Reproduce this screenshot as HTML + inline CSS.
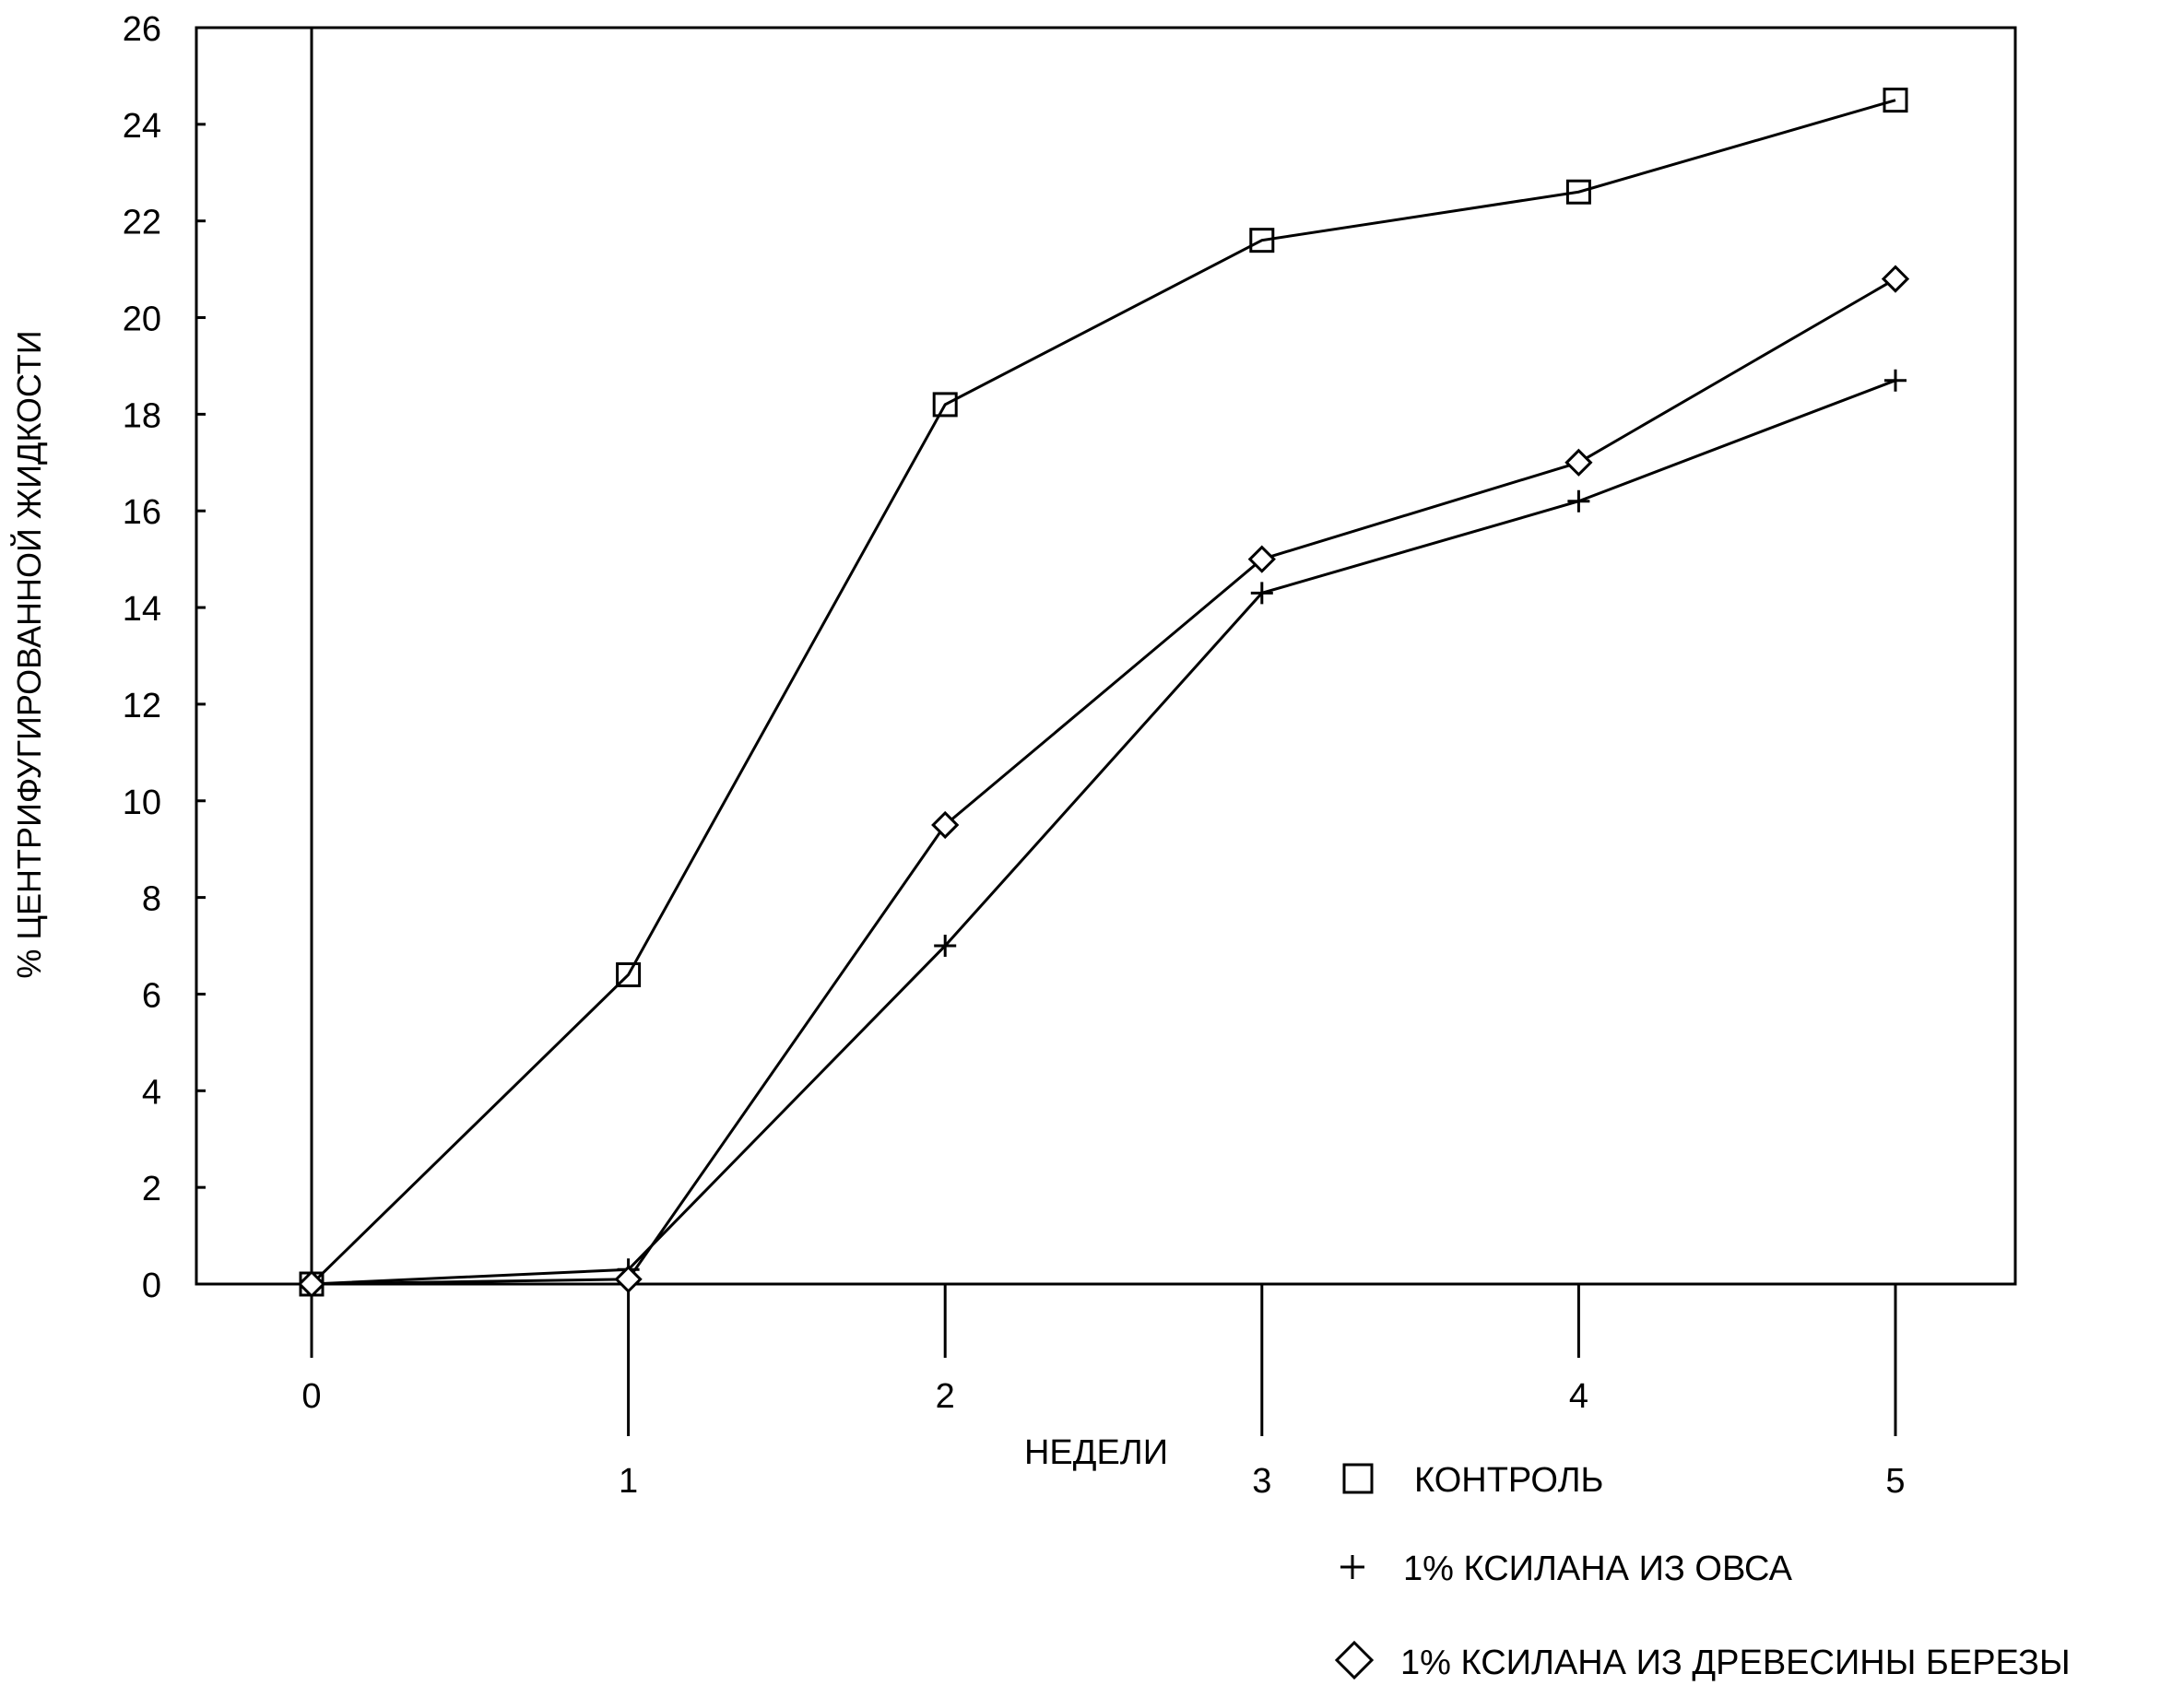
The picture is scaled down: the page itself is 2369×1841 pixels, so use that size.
<!DOCTYPE html>
<html><head><meta charset="utf-8"><style>
html,body{margin:0;padding:0;background:#fff}
svg{display:block}
text{font-family:"Liberation Sans",sans-serif;fill:#000}
</style></head><body>
<svg width="2369" height="1841" viewBox="0 0 2369 1841">
<g id="axes"></g>
<g id="series"></g>
<text x="1189" y="1588" font-size="38" text-anchor="middle">НЕДЕЛИ</text>
<text transform="translate(44,710) rotate(-90)" font-size="36" text-anchor="middle">% ЦЕНТРИФУГИРОВАННОЙ ЖИДКОСТИ</text>
<g>
<g>
<rect x="1458" y="1589" width="30" height="30" fill="none" stroke="#000" stroke-width="3"/>
<text x="1534" y="1618" font-size="38">КОНТРОЛЬ</text></g>
<g>
<path d="M1454 1700h26M1467 1687v26" stroke="#000" stroke-width="3"/>
<text x="1522" y="1714" font-size="38">1% КСИЛАНА ИЗ ОВСА</text></g>
<g>
<path d="M1469 1782l19 19l-19 19l-19-19z" fill="none" stroke="#000" stroke-width="3"/>
<text x="1519" y="1816" font-size="38">1% КСИЛАНА ИЗ ДРЕВЕСИНЫ БЕРЕЗЫ</text></g>
</g>
<script>
const weeks=[0,1,2,3,4,5];
const yTicks=[0,2,4,6,8,10,12,14,16,18,20,22,24,26];
const control=[0,6.4,18.2,21.6,22.6,24.5];
const oat=[0,0.3,7.0,14.3,16.2,18.7];
const birch=[0,0.1,9.5,15.0,17.0,20.8];
const L=213,R=2186,T=30,B=1393,X0=338,XW=343.6;
const sx=w=>X0+w*XW, sy=v=>B-(v/26)*(B-T);
const NS='http://www.w3.org/2000/svg';
function mk(tag,attrs,parent){const e=document.createElementNS(NS,tag);for(const k in attrs)e.setAttribute(k,attrs[k]);parent.appendChild(e);return e;}
const ax=document.getElementById('axes');
let f=mk('rect',{x:L,y:T,width:R-L,height:B-T,fill:'none',stroke:'#000','stroke-width':3},ax);


let v0=mk('line',{x1:sx(0),x2:sx(0),y1:T,y2:B,stroke:'#000','stroke-width':3},ax);


yTicks.forEach(t=>{
 const y=sy(t);
 let l=mk('line',{x1:L,x2:L+10,y1:y,y2:y,stroke:'#000','stroke-width':3},ax);
 
 
 let tx=mk('text',{x:175,y:y+14,'font-size':38,'text-anchor':'end'},ax);tx.textContent=t;
 
 
});
weeks.forEach(w=>{
 const x=sx(w),odd=w%2===1;
 let l=mk('line',{x1:x,x2:x,y1:B,y2:odd?1558:1473,stroke:'#000','stroke-width':3},ax);
 
 
 let tx=mk('text',{x:x,y:odd?1527+92:1527,'font-size':38,'text-anchor':'middle'},ax);tx.textContent=w;
 
 
});
const sg=document.getElementById('series');
function series(vals,name,marker){
 const g=mk('g',{},sg);
 
 
 let p=mk('polyline',{points:vals.map((v,i)=>sx(weeks[i])+','+sy(v)).join(' '),fill:'none',stroke:'#000','stroke-width':3},g);
 
 
 vals.forEach((v,i)=>{
  const x=sx(weeks[i]),y=sy(v);let m;
  if(marker==='sq')m=mk('rect',{x:x-12,y:y-12,width:24,height:24,fill:'none',stroke:'#000','stroke-width':3},g);
  else if(marker==='plus')m=mk('path',{d:`M${x-12} ${y}h24M${x} ${y-12}v24`,stroke:'#000','stroke-width':3},g);
  else m=mk('path',{d:`M${x} ${y-13}l13 13l-13 13l-13-13z`,fill:'#fff',stroke:'#000','stroke-width':3},g);
  
  
 });
}
series(control,'series-control','sq');
series(oat,'series-oat','plus');
series(birch,'series-birch','dia');
</script>
</svg>
</body></html>
